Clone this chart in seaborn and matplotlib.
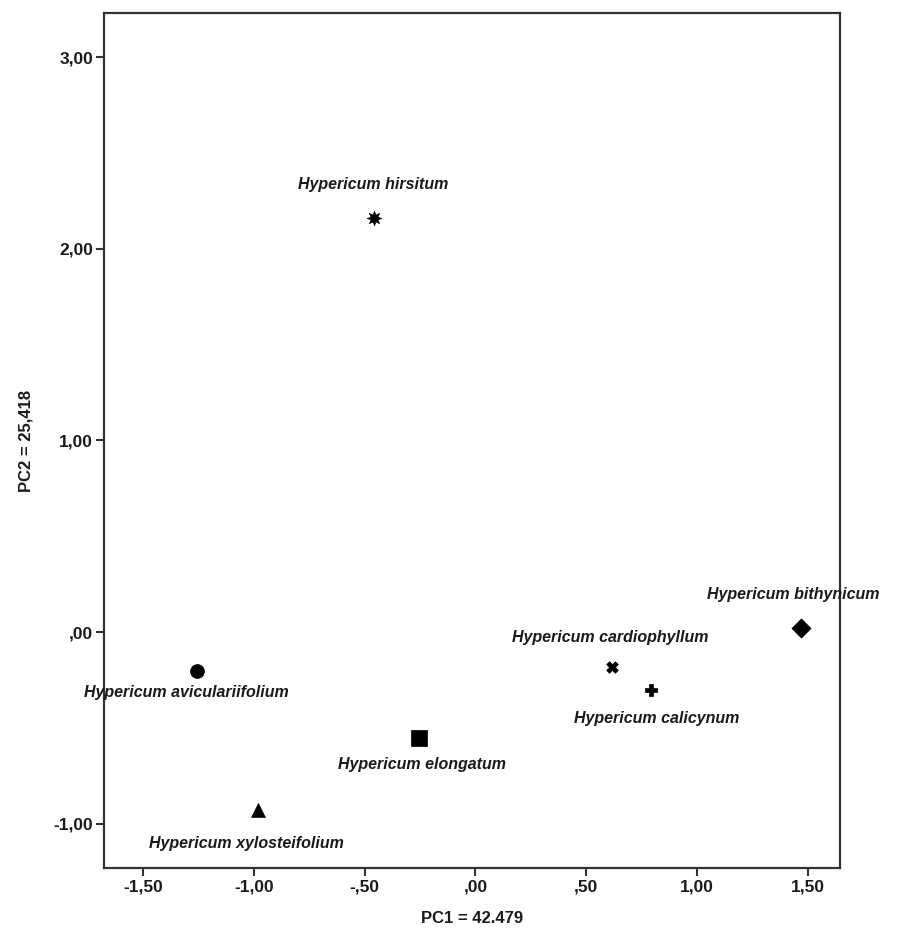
import pandas as pd
import numpy as np
import matplotlib
matplotlib.use('Agg')
import matplotlib.pyplot as plt
import seaborn as sns

species = ['Hypericum hirsitum', 'Hypericum aviculariifolium', 'Hypericum elongatum',
           'Hypericum xylosteifolium', 'Hypericum cardiophyllum', 'Hypericum calicynum',
           'Hypericum bithynicum']
pc1 = [-0.46, -1.255, -0.255, -0.98, 0.615, 0.79, 1.47]
pc2 = [2.16, -0.20, -0.55, -0.93, -0.18, -0.30, 0.02]
x_ticks = [-1.5, -1.0, -0.5, 0.0, 0.5, 1.0, 1.5]
y_ticks = [-1.0, 0.0, 1.0, 2.0, 3.0]

# marker shape per species, and where its name sits (pixels from the point)
markers = {species[0]: (8, 1, 0), species[1]: 'o', species[2]: 's', species[3]: '^',
           species[4]: 'X', species[5]: 'P', species[6]: 'D'}
sizes = [110, 100, 132, 100, 70, 70, 95]
label_offsets = [(0, 34), (-11, -22), (3, -27), (-12, -33), (-1, 29), (6, -29), (-8, 34)]


def spss_fmt(v):
    s = '%.2f' % v
    s = s.replace('0.', '.') if abs(v) < 1 else s
    return s.replace('.', ',')


df = pd.DataFrame({'PC1': pc1, 'PC2': pc2, 'species': species})

sns.set_style('white')
plt.rcParams['font.family'] = ['Liberation Sans', 'DejaVu Sans']

fig = plt.figure(figsize=(9, 9.39), dpi=100)
ax = fig.add_axes([0.1156, 0.0756, 0.8177, 0.9106])

for i, sp in enumerate(species):
    sns.scatterplot(data=df[df.species == sp], x='PC1', y='PC2', marker=markers[sp],
                    s=sizes[i], color='black', edgecolor='black', linewidth=0.5,
                    legend=False, ax=ax, zorder=3)
    ax.annotate(sp, (pc1[i], pc2[i]), xytext=label_offsets[i], textcoords='offset pixels',
                ha='center', va='center', fontsize=11.5, fontweight='bold',
                fontstyle='italic', color='#1a1a1a')

ax.set_xlim(-1.676, 1.645)
ax.set_ylim(-1.23, 3.23)
ax.set_xticks(x_ticks)
ax.set_yticks(y_ticks)
ax.set_xticklabels([spss_fmt(v) for v in x_ticks])
ax.set_yticklabels([spss_fmt(v) for v in y_ticks])
ax.tick_params(axis='both', direction='out', length=6, width=1.5, color='#333333',
               labelsize=12.5, labelcolor='#1a1a1a', bottom=True, left=True, pad=2)
for lab in ax.get_xticklabels() + ax.get_yticklabels():
    lab.set_fontweight('bold')
for sp in ax.spines.values():
    sp.set_color('#333333')
    sp.set_linewidth(1.6)

ax.set_xlabel('PC1 = 42.479', fontsize=12, fontweight='bold', color='#1a1a1a', labelpad=12)
ax.set_ylabel('PC2 = 25,418', fontsize=12, fontweight='bold', color='#1a1a1a', labelpad=14)

fig.savefig('out.png', dpi=100, facecolor='white')
